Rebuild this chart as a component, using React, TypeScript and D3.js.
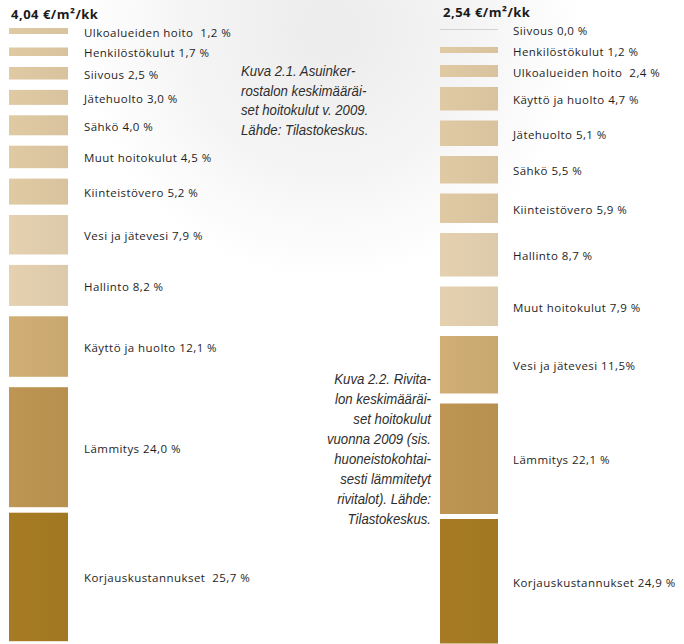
import React from "react";
import * as d3 from "d3";

const leftTitle = "4,04 €/m²/kk";
const rightTitle = "2,54 €/m²/kk";

const leftValues = [1.2, 1.7, 2.5, 3.0, 4.0, 4.5, 5.2, 7.9, 8.2, 12.1, 24.0, 25.7];
const leftLabels = [
  "Ulkoalueiden hoito  1,2 %",
  "Henkilöstökulut 1,7 %",
  "Siivous 2,5 %",
  "Jätehuolto 3,0 %",
  "Sähkö 4,0 %",
  "Muut hoitokulut 4,5 %",
  "Kiinteistövero 5,2 %",
  "Vesi ja jätevesi 7,9 %",
  "Hallinto 8,2 %",
  "Käyttö ja huolto 12,1 %",
  "Lämmitys 24,0 %",
  "Korjauskustannukset  25,7 %",
];

const rightValues = [0.0, 1.2, 2.4, 4.7, 5.1, 5.5, 5.9, 8.7, 7.9, 11.5, 22.1, 24.9];
const rightLabels = [
  "Siivous 0,0 %",
  "Henkilöstökulut 1,2 %",
  "Ulkoalueiden hoito  2,4 %",
  "Käyttö ja huolto 4,7 %",
  "Jätehuolto 5,1 %",
  "Sähkö 5,5 %",
  "Kiinteistövero 5,9 %",
  "Hallinto 8,7 %",
  "Muut hoitokulut 7,9 %",
  "Vesi ja jätevesi 11,5%",
  "Lämmitys 22,1 %",
  "Korjauskustannukset 24,9 %",
];

const caption1 = [
  "Kuva 2.1. Asuinker-",
  "rostalon keskimääräi-",
  "set hoitokulut v. 2009.",
  "Lähde: Tilastokeskus.",
];
const caption2 = [
  "Kuva 2.2. Rivita-",
  "lon keskimääräi-",
  "set hoitokulut",
  "vuonna 2009 (sis.",
  "huoneistokohtai-",
  "sesti lämmitetyt",
  "rivitalot). Lähde:",
  "Tilastokeskus.",
];

const W = 684;
const H = 644;

const hScale = d3.scaleLinear().domain([0, 1]).range([0, 5]);
const colorScale = d3
  .scaleThreshold<number, string>()
  .domain([0.01, 7, 10, 20, 24.5])
  .range(["#d2d2d2", "#d8c39e", "#ddcaaa", "#c9a870", "#b7904f", "#a17722"]);

type Block = { y: number; h: number; v: number; label: string; i: number };

function layout(values: number[], labels: string[], start: number, minSlot: number, gap: number, lastGap: number): Block[] {
  const out: Block[] = [];
  let y = start;
  values.forEach((v, i) => {
    const h = Math.max(hScale(v), 1);
    out.push({ y, h, v, label: labels[i], i });
    const isBeforeLast = i === values.length - 2;
    const slot = isBeforeLast ? h + lastGap : Math.max(h + gap, minSlot);
    y += slot;
  });
  return out;
}

const labelFont = "'Open Sans', sans-serif";

function Column({ blocks, x, w, labelX, id }: { blocks: Block[]; x: number; w: number; labelX: number; id: string }) {
  return (
    <g>
      {blocks.map((b) => {
        const c = colorScale(b.v);
        return (
          <g key={b.i}>
            <rect x={x} y={b.y} width={w} height={b.h} fill={b.v > 0 ? `url(#${id}-g${b.i})` : c} />
            <text
              x={labelX}
              y={b.y + b.h / 2 + 1.5}
              dy="0.35em"
              fontFamily={labelFont}
              fontSize={11.5}
              letterSpacing={0.45}
              fill="#1e1e1e"
              style={{ whiteSpace: "pre" }}
            >
              {b.label}
            </text>
          </g>
        );
      })}
    </g>
  );
}

function Grads({ blocks, id }: { blocks: Block[]; id: string }) {
  return (
    <>
      {blocks.map((b) => {
        const c = colorScale(b.v);
        const light = d3.color(c)!.brighter(0.1).formatHex();
        return (
          <linearGradient key={b.i} id={`${id}-g${b.i}`} x1="0" x2="1" y1="0" y2="0">
            <stop offset="0" stopColor={light} />
            <stop offset="1" stopColor={c} />
          </linearGradient>
        );
      })}
    </>
  );
}

export default function App() {
  const left = layout(leftValues, leftLabels, 28, 19.5, 10.4, 5.5);
  const right = layout(rightValues, rightLabels, 29, 18, 10, 5);
  const capFont = "'Liberation Sans', Arial, sans-serif";
  const sx = 0.88;
  return (
    <svg width={W} height={H} style={{ display: "block", position: "absolute", left: 0, top: 0 }}>
      <defs>
        <radialGradient id="bgTop" cx="330" cy="30" r="250" gradientUnits="userSpaceOnUse">
          <stop offset="0" stopColor="#ececec" />
          <stop offset="0.55" stopColor="#f4f4f4" />
          <stop offset="1" stopColor="#ffffff" />
        </radialGradient>
        <Grads blocks={left} id="L" />
        <Grads blocks={right} id="R" />
      </defs>
      <rect x={0} y={0} width={W} height={H} fill="url(#bgTop)" />

      <text x={11} y={19} fontFamily={labelFont} fontWeight="bold" fontSize={13} letterSpacing={0.5} fill="#1a1a1a">
        {leftTitle}
      </text>
      <text x={443} y={17} fontFamily={labelFont} fontWeight="bold" fontSize={13} letterSpacing={0.5} fill="#1a1a1a">
        {rightTitle}
      </text>

      <Column blocks={left} x={9} w={59} labelX={84} id="L" />
      <Column blocks={right} x={440} w={58} labelX={513} id="R" />

      <g fontFamily={capFont} fontStyle="italic" fontSize={15} fill="#2e2e2e">
        <g transform={`translate(241,0) scale(${sx},1)`}>
          {caption1.map((t, i) => (
            <text key={i} x={0} y={76 + i * 19.7}>
              {t}
            </text>
          ))}
        </g>
        <g transform={`translate(431,0) scale(${sx},1)`}>
          {caption2.map((t, i) => (
            <text key={i} x={0} y={384 + i * 20} textAnchor="end">
              {t}
            </text>
          ))}
        </g>
      </g>
    </svg>
  );
}
